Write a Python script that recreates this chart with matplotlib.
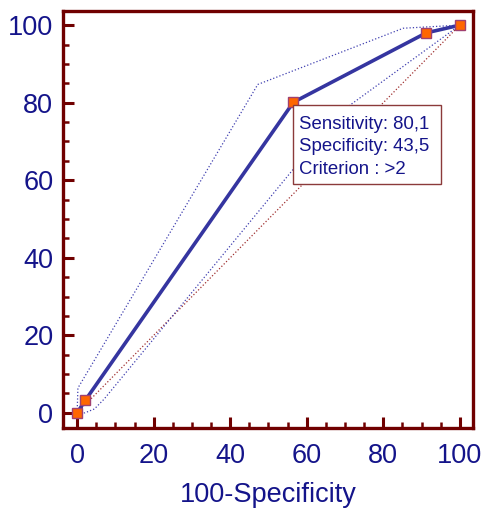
import numpy as np
import matplotlib.pyplot as plt
from matplotlib.ticker import MultipleLocator
from matplotlib.patches import Rectangle

plt.rcParams['font.family'] = ['Liberation Sans', 'DejaVu Sans']

# ROC curve points (100-Specificity, Sensitivity)
roc_x = [0, 2.1, 56.5, 91.2, 100]
roc_y = [0, 3.2, 80.1, 98.0, 100]

# confidence bounds
upper_x = [0, 0.2, 47.2, 85.2, 100]
upper_y = [0, 6.4, 84.7, 99.2, 100]
lower_x = [0, 2.0, 4.5, 7.0, 68.7, 100]
lower_y = [0, 0.0, 1.0, 3.5, 77.5, 100]

diag = [0, 100]

info = "Sensitivity: 80,1\nSpecificity: 43,5\nCriterion : >2"

navy = '#14148a'
dark_red = '#700000'

fig = plt.figure(figsize=(4.83, 5.08), dpi=100)
ax = fig.add_axes([0.1304, 0.1575, 0.8486, 0.8205])

ax.plot(diag, diag, color='#a03030', linestyle=':', linewidth=0.9)
ax.plot(upper_x, upper_y, color='#4040b0', linestyle=':', linewidth=0.9)
ax.plot(lower_x, lower_y, color='#4040b0', linestyle=':', linewidth=0.9)
ax.plot(roc_x, roc_y, color='#3535a0', linewidth=2.6, marker='s',
        markersize=7, markerfacecolor='#ff6600', markeredgecolor='#a04070',
        markeredgewidth=1.0, zorder=5)

# info box anchored at the cut-off point
ax.add_patch(Rectangle((56.5, 59.0), 38.7, 20.5, facecolor='white',
                       edgecolor='#8b3a3a', linewidth=1.0, zorder=6))
ax.text(58.0, 76.6, info, color=navy, fontsize=13.4, va='top', ha='left',
        linespacing=1.42, zorder=7)

ax.set_xlim(-3.7, 103.4)
ax.set_ylim(-3.9, 103.6)
ax.xaxis.set_major_locator(MultipleLocator(20))
ax.xaxis.set_minor_locator(MultipleLocator(5))
ax.yaxis.set_major_locator(MultipleLocator(20))
ax.yaxis.set_minor_locator(MultipleLocator(5))

for s in ax.spines.values():
    s.set_color(dark_red)
    s.set_linewidth(2.4)

ax.tick_params(which='major', direction='in', length=8, width=2.2,
               color=dark_red, labelsize=19.5, labelcolor=navy)
ax.tick_params(which='minor', direction='in', length=4.5, width=1.8,
               color=dark_red)
ax.tick_params(axis='x', which='major', pad=11)
ax.tick_params(axis='y', which='major', pad=7)

ax.set_xlabel("100-Specificity", fontsize=19.5, color=navy, labelpad=9)

fig.savefig('out.png', dpi=100)
